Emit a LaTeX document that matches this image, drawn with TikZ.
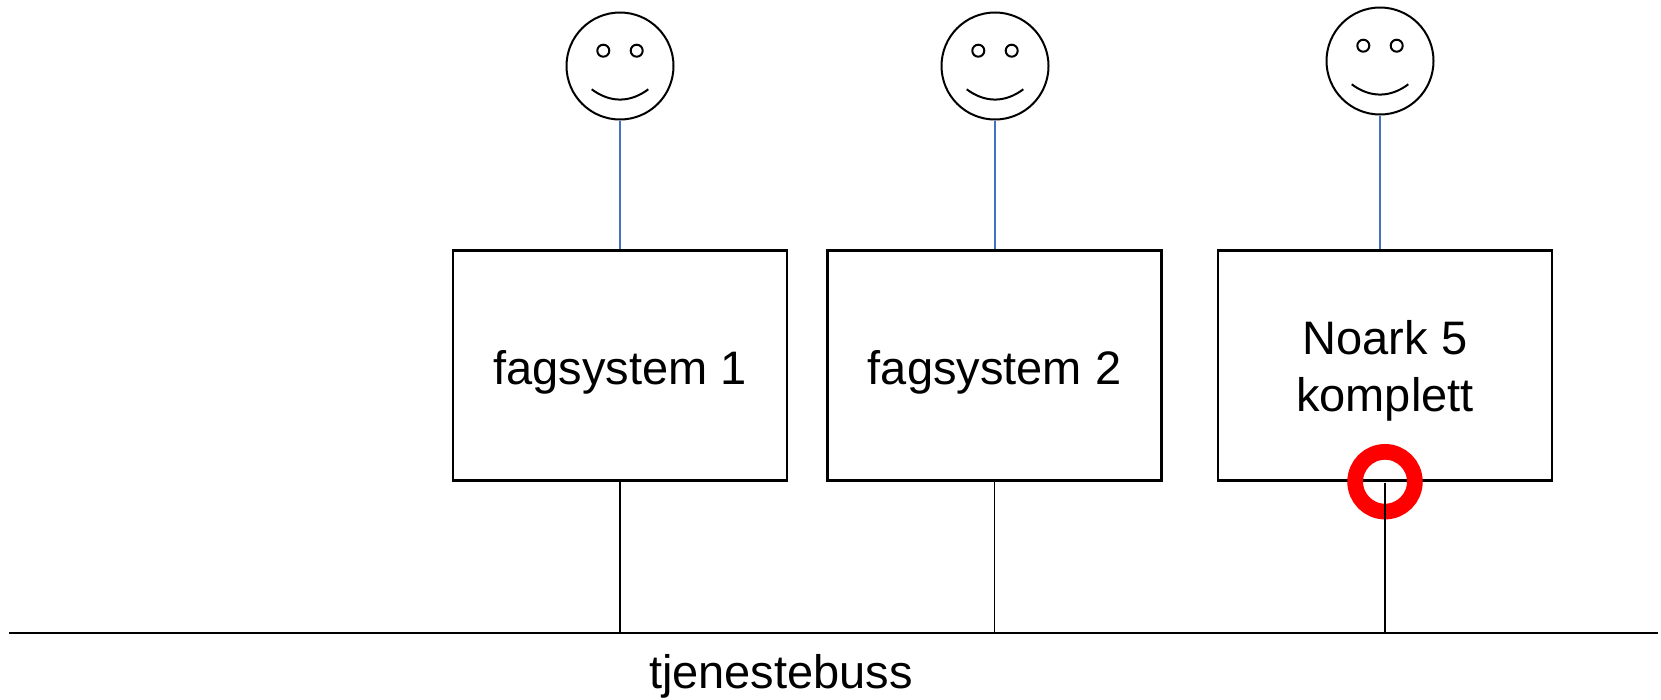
\documentclass[tikz,border=0pt]{standalone}
\usepackage{fontspec}
\setmainfont{Liberation Sans}
\definecolor{linkblue}{RGB}{68,114,196}
\begin{document}
\begin{tikzpicture}[x=1pt,y=-1pt,
  sysbox/.style={draw=black, line width=2.2pt, minimum width=334pt, minimum height=230pt, inner sep=0pt},
  lbl/.style={font=\fontsize{47}{56}\selectfont, inner sep=0pt, anchor=base},
  face/.style={draw=black, line width=2pt, circle, minimum size=107pt, inner sep=0pt},
  feature/.style={draw=black, line width=2pt},
  wire/.style={draw=black, line width=1.9pt},
  userlink/.style={draw=linkblue, line width=1.6pt},
  ring/.style={draw=red, line width=15.7pt, circle, minimum size=59.7pt, inner sep=0pt}]
\useasboundingbox (0,0) rectangle (1661,699);

% bus
\coordinate (busL) at (9,633.3);
\coordinate (busR) at (1658,633.3);
\draw[wire, line width=2.2pt] (busL) -- (busR);
\node[lbl] (bus) at (781,688) {tjenestebuss};

% system boxes
\node[sysbox] (b1) at (620,365.5) {};
\node[sysbox] (b2) at (994.5,365.5) {};
\node[sysbox] (b3) at (1385,365.5) {};
\node[lbl] (t1) at (620,384) {fagsystem 1};
\node[lbl] (t2) at (994.5,384) {fagsystem 2};
\node[lbl] (t3a) at (1385,354) {Noark 5};
\node[lbl] (t3b) at (1385,411.7) {komplett};

% red ring
\node[ring] (rg) at (1385,481.7) {};

% connectors to bus
\draw[wire] (b1.south) -- (b1.south |- busL);
\draw[wire] (b2.south) -- (b2.south |- busL);
\draw[wire] ([yshift=-1pt]b3.south) -- (b3.south |- busL);

% smiley faces
\foreach \n/\x/\y in {1/620/66, 2/995/66, 3/1380/61} {
  \node[face] (f\n) at (\x,\y) {};
  \draw[feature] ([shift={(-16.7,-15.3)}]f\n.center) circle (6);
  \draw[feature] ([shift={(16.7,-15.3)}]f\n.center) circle (6);
  \draw[feature] ([shift={(-28.3,23.3)}]f\n.center)
     .. controls ([shift={(-10,37)}]f\n.center) and ([shift={(10,37)}]f\n.center)
     .. ([shift={(28.3,23.3)}]f\n.center);
}

% user links
\draw[userlink] (f1.south) -- (f1.south |- b1.north);
\draw[userlink] (f2.south) -- (f2.south |- b2.north);
\draw[userlink] (f3.south) -- (f3.south |- b3.north);
\end{tikzpicture}
\end{document}
